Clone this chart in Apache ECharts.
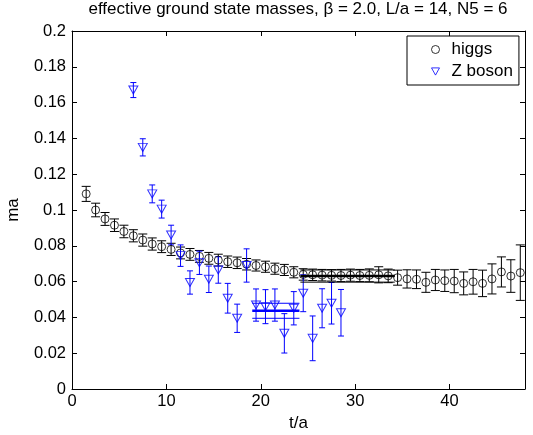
<!DOCTYPE html>
<html>
<head>
<meta charset="utf-8">
<script src="https://cdn.jsdelivr.net/npm/echarts@6/dist/echarts.min.js"></script>
<style>
  html, body { margin: 0; padding: 0; background: #fff; }
  #main { width: 533px; height: 435px; }
</style>
</head>
<body>
<div id="main"></div>
<script>
// effective mass data
var higgsT = [1.5, 2.5, 3.5, 4.5, 5.5, 6.5, 7.5, 8.5, 9.5, 10.5, 11.5, 12.5, 13.5, 14.5, 15.5, 16.5,
  17.5, 18.5, 19.5, 20.5, 21.5, 22.5, 23.5, 24.5, 25.5, 26.5, 27.5, 28.5, 29.5, 30.5, 31.5, 32.5,
  33.5, 34.5, 35.5, 36.5, 37.5, 38.5, 39.5, 40.5, 41.5, 42.5, 43.5, 44.5, 45.5, 46.5, 47.5];
var higgsMass = [0.109, 0.100, 0.095, 0.0915, 0.088, 0.0856, 0.0832, 0.081, 0.0795, 0.078, 0.076, 0.0752,
  0.0741, 0.073, 0.072, 0.0711, 0.0705, 0.0697, 0.069, 0.0683, 0.0672, 0.0665, 0.0652, 0.064, 0.0638,
  0.0636, 0.0635, 0.0634, 0.0636, 0.0634, 0.0635, 0.0638, 0.0632, 0.0622, 0.0615, 0.0613, 0.0596,
  0.0609, 0.0605, 0.0603, 0.059, 0.0599, 0.059, 0.0615, 0.0654, 0.0631, 0.065];
var higgsErr = [0.0042, 0.0038, 0.0036, 0.0035, 0.0035, 0.0034, 0.0034, 0.0034, 0.0033, 0.0034, 0.0033,
  0.0033, 0.0033, 0.0033, 0.0033, 0.0032, 0.0032, 0.0032, 0.0031, 0.0031, 0.0031, 0.0031, 0.0031,
  0.0032, 0.0032, 0.0032, 0.0032, 0.0034, 0.0034, 0.0034, 0.0036, 0.0045, 0.0038, 0.0042, 0.0051,
  0.0052, 0.0056, 0.0059, 0.006, 0.0065, 0.0064, 0.0069, 0.0074, 0.0084, 0.0084, 0.0091, 0.0155];

var zT = [6.5, 7.5, 8.5, 9.5, 10.5, 11.5, 12.5, 13.5, 14.5, 15.5, 16.5, 17.5, 18.5, 19.5, 20.5, 21.5,
  22.5, 23.5, 24.5, 25.5, 26.5, 27.5, 28.5];
var zMass = [0.167, 0.135, 0.109, 0.1005, 0.086, 0.0745, 0.0595, 0.0705, 0.0613, 0.0665, 0.0507, 0.0395,
  0.069, 0.0469, 0.046, 0.0469, 0.0311, 0.0451, 0.0535, 0.0283, 0.0451, 0.0479, 0.0426];
var zErr = [0.0042, 0.0048, 0.005, 0.005, 0.0055, 0.006, 0.0065, 0.0065, 0.0074, 0.0074, 0.0083, 0.0079,
  0.0093, 0.009, 0.0095, 0.009, 0.011, 0.0093, 0.0103, 0.0125, 0.0109, 0.0116, 0.013];

// plateau fits: [t start, t end], [mass, error]
var higgsFitT = [24.2, 34.2];
var higgsFit = [0.0631, 0.0034];
var zFitT = [19.1, 24.1];
var zFit = [0.0437, 0.0042];

var xTicks = [0, 48, 10];
var yTicks = [0, 0.2, 0.02];

var FONT = 'Liberation Sans, Arial, Helvetica, sans-serif';
var DOWN_TRI = 'path://M0,0 L10,0 L5,9 Z';

function pts(t, m) {
    var out = [];
    for (var i = 0; i < t.length; i++) out.push([t[i], m[i]]);
    return out;
}
function bars(t, m, e) {
    var out = [];
    for (var i = 0; i < t.length; i++) out.push([t[i], m[i] - e[i], m[i] + e[i]]);
    return out;
}
function errSeries(data, color, cap) {
    return {
        type: 'custom',
        data: data,
        encode: { x: 0, y: [1, 2] },
        silent: true,
        z: 1,
        renderItem: function (params, api) {
            var lo = api.coord([api.value(0), api.value(1)]);
            var hi = api.coord([api.value(0), api.value(2)]);
            var st = { stroke: color, lineWidth: 1 };
            return {
                type: 'group',
                children: [
                    { type: 'line', shape: { x1: lo[0], y1: lo[1], x2: hi[0], y2: hi[1] }, style: st },
                    { type: 'line', shape: { x1: lo[0] - cap, y1: lo[1], x2: lo[0] + cap, y2: lo[1] }, style: st },
                    { type: 'line', shape: { x1: hi[0] - cap, y1: hi[1], x2: hi[0] + cap, y2: hi[1] }, style: st }
                ]
            };
        }
    };
}
function fitLines(t, f, color) {
    var s = [];
    var vals = [f[0], f[0] + f[1], f[0] - f[1]];
    for (var i = 0; i < 3; i++) {
        s.push({
            type: 'line',
            data: [[t[0], vals[i]], [t[1], vals[i]]],
            symbol: 'none',
            silent: true,
            z: 3,
            lineStyle: { color: color, width: i == 0 ? 2.5 : 1 }
        });
    }
    return s;
}

var myChart = echarts.init(document.getElementById('main'));

var axisX = {
    type: 'value',
    min: xTicks[0], max: xTicks[1], interval: xTicks[2],
    axisLine: { show: true, onZero: false, lineStyle: { color: '#000', width: 1 } },
    axisTick: { show: true, inside: true, length: 5, lineStyle: { color: '#000' } },
    splitLine: { show: false }
};
var axisY = {
    type: 'value',
    min: yTicks[0], max: yTicks[1], interval: yTicks[2],
    axisLine: { show: true, onZero: false, lineStyle: { color: '#000', width: 1 } },
    axisTick: { show: true, inside: true, length: 5, lineStyle: { color: '#000' } },
    splitLine: { show: false }
};

option = {
    animation: false,
    backgroundColor: '#fff',
    textStyle: { fontFamily: FONT },
    title: {
        text: 'effective ground state masses, \u03b2 = 2.0, L/a = 14, N5 = 6',
        left: 298,
        top: 1,
        padding: 0,
        textAlign: 'center',
        textStyle: { fontFamily: FONT, fontSize: 17, fontWeight: 'normal', color: '#000' }
    },
    legend: {
        data: ['higgs', 'Z boson'],
        orient: 'vertical',
        left: 407,
        top: 36,
        padding: [5, 6, 5, 24],
        itemGap: 5,
        itemWidth: 8,
        itemHeight: 8,
        backgroundColor: '#fff',
        borderColor: '#000',
        borderWidth: 1,
        borderRadius: 0,
        itemStyle: { borderWidth: 1 },
        textStyle: { fontFamily: FONT, fontSize: 17, color: '#000', padding: [0, 0, 0, 7] }
    },
    grid: { left: 72, right: 8, top: 31, bottom: 46, containLabel: false, outerBoundsMode: 'none' },
    xAxis: [
        echarts.util.merge({
            position: 'bottom',
            name: 't/a',
            nameLocation: 'middle',
            nameGap: 21,
            nameTextStyle: { fontFamily: FONT, fontSize: 17, color: '#000' },
            axisLabel: { show: true, margin: 4, showMaxLabel: false, fontSize: 16.5, color: '#000', fontFamily: FONT }
        }, axisX, true),
        echarts.util.merge({ position: 'top', axisLabel: { show: false } }, axisX, true)
    ],
    yAxis: [
        echarts.util.merge({
            position: 'left',
            name: 'ma',
            nameLocation: 'middle',
            nameGap: 50,
            nameTextStyle: { fontFamily: FONT, fontSize: 17, color: '#000' },
            axisLabel: { show: true, margin: 6, fontSize: 16.5, color: '#000', fontFamily: FONT }
        }, axisY, true),
        echarts.util.merge({ position: 'right', axisLabel: { show: false } }, axisY, true)
    ],
    series: [
        errSeries(bars(higgsT, higgsMass, higgsErr), '#000', 4.5),
        {
            name: 'higgs',
            type: 'scatter',
            data: pts(higgsT, higgsMass),
            symbol: 'circle',
            symbolSize: 8,
            z: 2,
            itemStyle: { color: 'rgba(0,0,0,0)', borderColor: '#000', borderWidth: 1 }
        },
        errSeries(bars(zT, zMass, zErr), '#0000ff', 3),
        {
            name: 'Z boson',
            type: 'scatter',
            data: pts(zT, zMass),
            symbol: DOWN_TRI,
            symbolSize: [9, 8],
            z: 2,
            itemStyle: { color: 'rgba(0,0,0,0)', borderColor: '#0000ff', borderWidth: 1 }
        }
    ].concat(fitLines(higgsFitT, higgsFit, '#000'), fitLines(zFitT, zFit, '#0000ff'))
};

if (option && typeof option === 'object') {
    myChart.setOption(option, true);
}
</script>
</body>
</html>
